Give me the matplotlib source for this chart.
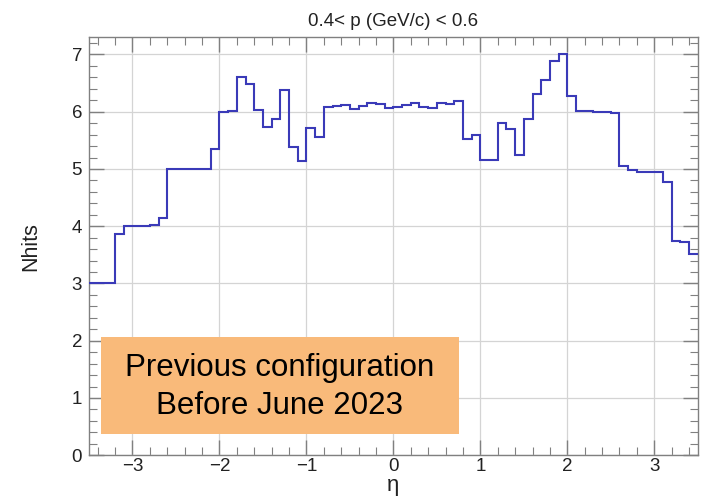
import numpy as np
import matplotlib.pyplot as plt
from matplotlib.patches import Rectangle
from matplotlib.ticker import MultipleLocator

plt.rcParams['font.family'] = ['Liberation Sans', 'DejaVu Sans']

# eta bin edges: 70 bins of 0.1 from -3.5 to 3.5
eta_lo, eta_hi, n_bins = -3.5, 3.5, 70
nhits = [3.00, 3.00, 3.00, 3.86, 4.01, 4.01, 4.01, 4.02, 4.15, 5.00,
         5.00, 5.00, 5.00, 5.00, 5.34, 6.00, 6.01, 6.60, 6.49, 6.03,
         5.73, 5.87, 6.38, 5.38, 5.14, 5.72, 5.56, 6.09, 6.10, 6.11,
         6.04, 6.10, 6.15, 6.13, 6.07, 6.08, 6.11, 6.16, 6.09, 6.07,
         6.15, 6.13, 6.19, 5.53, 5.60, 5.15, 5.15, 5.81, 5.69, 5.25,
         5.88, 6.31, 6.56, 6.89, 7.00, 6.28, 6.02, 6.02, 6.00, 5.99,
         5.98, 5.06, 4.99, 4.95, 4.94, 4.94, 4.77, 3.74, 3.72, 3.52]

edges = np.linspace(eta_lo, eta_hi, n_bins + 1)

fig = plt.figure(figsize=(7.12, 4.97), dpi=100)
ax = fig.add_axes([0.125, 0.084, 0.855, 0.841])

ax.stairs(nhits, edges, color='#3a3ab8', linewidth=1.5, baseline=None, zorder=3)

ax.set_xlim(eta_lo, eta_hi)
ax.set_ylim(0, 7.3)
ax.xaxis.set_major_locator(MultipleLocator(1))
ax.xaxis.set_minor_locator(MultipleLocator(0.2))
ax.yaxis.set_major_locator(MultipleLocator(1))
ax.yaxis.set_minor_locator(MultipleLocator(0.2))
ax.xaxis.set_major_formatter(plt.FuncFormatter(lambda v, p: f'{v:.0f}'.replace('-', '\u2212')))

frame = '#808080'
for s in ax.spines.values():
    s.set_color(frame)
    s.set_linewidth(1.0)
ax.tick_params(which='both', direction='in', top=True, right=True, color=frame,
               labelsize=13.5, labelcolor='#222222')
ax.tick_params(which='major', length=11, width=1.0, pad=5)
ax.tick_params(axis='x', which='major', pad=2)
ax.tick_params(which='minor', length=6, width=0.8)
ax.grid(True, which='major', color='#d4d4d4', linewidth=0.9)
ax.set_axisbelow(True)

ax.set_title('0.4< p (GeV/c) < 0.6', fontsize=13.5, color='#222222', pad=8)
ax.set_ylabel('Nhits', fontsize=15.5, color='#222222', labelpad=22)
ax.set_xlabel('\u03b7', fontsize=16, color='#222222', labelpad=0)

# annotation box
box = Rectangle((0.1418, 0.127), 0.503, 0.195, transform=fig.transFigure,
                facecolor='#F9BA7A', edgecolor='none', zorder=5)
fig.patches.append(box)
fig.text(0.393, 0.259, 'Previous configuration', ha='center', va='center',
         fontsize=22.5, color='black', zorder=6)
fig.text(0.393, 0.183, 'Before June 2023', ha='center', va='center',
         fontsize=22.5, color='black', zorder=6)

plt.savefig('out.png', dpi=100)
